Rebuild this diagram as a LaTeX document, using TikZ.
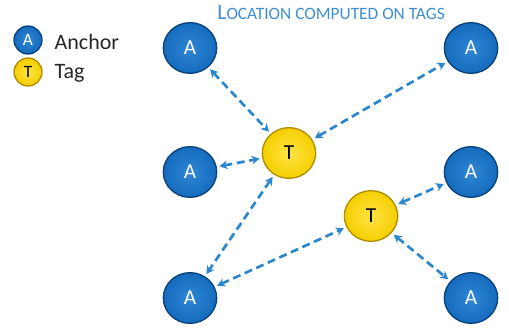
\documentclass[tikz,border=0pt]{standalone}
\usepackage{fontspec}
\setmainfont{Carlito}
\usetikzlibrary{arrows.meta,shapes.geometric}
\definecolor{ablue}{HTML}{156BBD}
\definecolor{ablueD}{HTML}{0A437C}
\definecolor{ablueL}{HTML}{2F86D6}
\definecolor{tyel}{HTML}{F4CF00}
\definecolor{tyelD}{HTML}{B08E00}
\definecolor{tyelL}{HTML}{FFE445}
\definecolor{arr}{HTML}{2A86CE}
\definecolor{ttl}{HTML}{3C8ED2}
\tikzset{
  anchorball/.style={ellipse, minimum width=40pt, minimum height=38pt, inner sep=0pt,
     draw=ablueD, line width=1pt, inner color=ablueL, outer color=ablue, text=white,
     font=\fontsize{16}{16}\selectfont},
  tagball/.style={ellipse, minimum width=40pt, minimum height=38pt, inner sep=0pt,
     draw=tyelD, line width=1pt, inner color=tyelL, outer color=tyel, text=black,
     font=\fontsize{16}{16}\selectfont},
  legA/.style={anchorball, minimum width=21pt, minimum height=21pt, font=\fontsize{13}{13}\selectfont},
  legT/.style={tagball, minimum width=21pt, minimum height=21pt, font=\fontsize{13}{13}\selectfont},
  link/.style={draw=arr, line width=2pt, dash pattern=on 6pt off 3.5pt,
     {Stealth[length=6pt,width=6.5pt]}-{Stealth[length=6pt,width=6.5pt]}, shorten <=2pt, shorten >=2pt},
  legtext/.style={anchor=west, font=\fontsize{16.5}{16.5}\selectfont, text=black!85}
}
\begin{document}
\begin{tikzpicture}[x=0.75pt,y=-0.75pt]
\useasboundingbox (0,0) rectangle (509,334);
% legend
\node[legA] (la) at (28,40) {A};
\node[legT] (lt) at (28,72) {T};
\node[legtext] (lat) at (50,42) {Anchor};
\node[legtext] (ltt) at (50,73) {Tag};
% title
\node[text=ttl] (title) at (331,13) {{\fontsize{16.5}{16.5}\selectfont L}{\fontsize{13}{13}\selectfont OCATION COMPUTED ON TAGS}};
% anchors
\node[anchorball] (a1) at (190,48) {A};
\node[anchorball] (a2) at (471,48) {A};
\node[anchorball] (a3) at (190,172) {A};
\node[anchorball] (a4) at (471,172) {A};
\node[anchorball] (a5) at (190,298) {A};
\node[anchorball] (a6) at (471,298) {A};
% tags
\node[tagball] (t1) at (289,153) {T};
\node[tagball] (t2) at (371,216) {T};
% links
\draw[link] (a1) -- (t1);
\draw[link] (t1) -- (a2);
\draw[link] (a3) -- (t1);
\draw[link] (t1) -- (a5);
\draw[link] (a5) -- (t2);
\draw[link] (t2) -- (a4);
\draw[link] (t2) -- (a6);
\end{tikzpicture}
\end{document}
